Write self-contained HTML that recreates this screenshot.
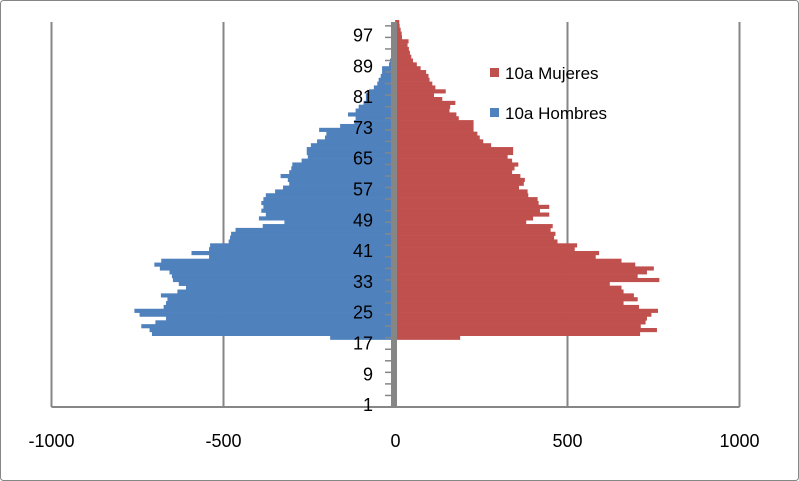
<!DOCTYPE html>
<html><head><meta charset="utf-8"><style>
body{margin:0;background:#fff}
svg{display:block;font-family:"Liberation Sans",sans-serif}
</style></head><body>
<svg id="chart" width="799" height="481" viewBox="0 0 799 481" xmlns="http://www.w3.org/2000/svg">
<rect x="0.5" y="0.5" width="798" height="480" rx="3" fill="#fff" stroke="#868686"/>
<g id="grid"></g><g id="bars"></g><g id="axes"></g>
<g>
<rect x="490" y="68" width="9" height="9" fill="#C0504D"/>
<text x="505" y="79" font-size="17" fill="#000">10a Mujeres</text>
<rect x="490" y="108" width="9" height="9" fill="#4F81BD"/>
<text x="505" y="119" font-size="17" fill="#000">10a Hombres</text>
</g>
</svg>
<script>
const ages = Array.from({length:100},(_,i)=>i+1);
const mujeres = [0,0,0,0,0,0,0,0,0,0,0,0,0,0,0,0,0,188,711,760,713,727,731,744,763,708,663,704,693,663,657,623,767,704,731,751,697,657,582,592,521,528,471,461,465,451,457,380,400,447,420,447,416,413,386,384,359,373,376,363,339,346,357,339,326,342,342,278,255,245,238,227,227,227,184,177,157,159,174,136,112,146,116,107,99,96,89,73,62,51,46,42,39,35,38,19,18,15,12,11];
const hombres = [0,0,0,0,0,0,0,0,0,0,0,0,0,0,0,0,0,-190,-708,-715,-739,-698,-667,-744,-759,-674,-667,-663,-682,-634,-609,-630,-647,-650,-657,-685,-701,-681,-542,-593,-542,-539,-485,-481,-478,-465,-386,-323,-397,-377,-390,-384,-390,-384,-377,-350,-327,-309,-313,-334,-309,-303,-300,-273,-255,-258,-258,-246,-228,-205,-201,-222,-161,-120,-116,-138,-116,-107,-93,-86,-86,-77,-63,-53,-49,-43,-39,-39,-19,-16,-8,-8,-6,-5,-4,-3,-3,-2,-2,-1];
const xTicks = [-1000,-500,0,500,1000];
const yLabels = [1,9,17,25,33,41,49,57,65,73,81,89,97];
const NS="http://www.w3.org/2000/svg";
const x0=395.5, k=0.344, yBase=407, rowH=3.85, barShift=-2;
const X=v=>x0+v*k;
const Y=a=>yBase-a*rowH;
function mk(tag,attrs,parent){const e=document.createElementNS(NS,tag);for(const a in attrs)e.setAttribute(a,attrs[a]);parent.appendChild(e);return e;}
const grid=document.getElementById('grid'),bars=document.getElementById('bars'),axes=document.getElementById('axes');
xTicks.forEach(t=>{
  if(t!==0){const l=mk('line',{x1:X(t),x2:X(t),y1:22,y2:yBase,stroke:'#868686','stroke-width':2},grid);
  
  }
  const tx=mk('text',{x:X(t),y:447,'font-size':18,'text-anchor':'middle',fill:'#000'},axes);
  tx.textContent=t;
  
  
});
ages.forEach((a,i)=>{
  const y=Y(a)+barShift;
  if(mujeres[i]>0){const r=mk('rect',{x:X(0),y:y,width:mujeres[i]*k,height:rowH+0.3,fill:'#C0504D'},bars);
  
  }
  if(hombres[i]<0){const r=mk('rect',{x:X(hombres[i]),y:y,width:-hombres[i]*k,height:rowH+0.3,fill:'#4F81BD'},bars);
  
  }
});
const xl=mk('line',{x1:X(-1000),x2:X(1000),y1:yBase,y2:yBase,stroke:'#868686','stroke-width':2},axes);


const ya=mk('rect',{x:391,y:22,width:6,height:yBase-22,fill:'#868686'},axes);


for(let a=0;a<=100;a+=3){const t=mk('line',{x1:385,x2:391,y1:Y(a),y2:Y(a),stroke:'#868686','stroke-width':1.5},axes);
  
  }
yLabels.forEach(a=>{
  const t=mk('text',{x:373,y:Y(a)+rowH/2+6,'font-size':18,'text-anchor':'end',fill:'#000'},axes);
  t.textContent=a;
  
  
});
</script>
</body></html>
